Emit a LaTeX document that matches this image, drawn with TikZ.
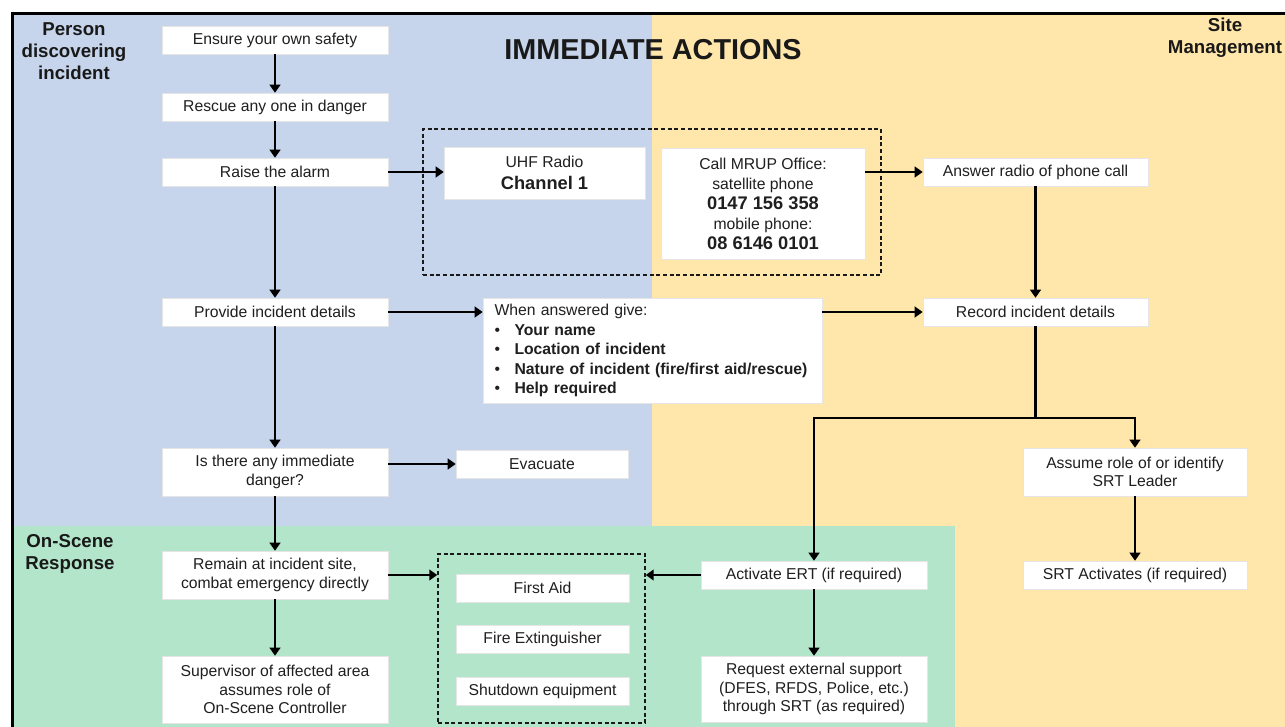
\documentclass[tikz,border=0pt]{standalone}
\usepackage{fontspec}
\setmainfont{Liberation Sans}
\usetikzlibrary{arrows.meta}

\definecolor{laneblue}{RGB}{198,212,236}
\definecolor{laneyellow}{RGB}{255,231,171}
\definecolor{lanegreen}{RGB}{178,229,201}

\tikzset{
  stepbox/.style={fill=white, draw=black!10, line width=0.4pt, inner sep=2pt,
    align=center, text=black!88, font=\fontsize{11.8}{14}\selectfont,
    minimum width=169.5pt, minimum height=21pt},
  smallbox/.style={stepbox, minimum width=129.75pt},
  flow/.style={line width=1.6pt, -{Triangle[length=6pt,width=8pt]}},
  plainline/.style={line width=1.6pt},
  groupbox/.style={draw=black!90, line width=1.1pt, dash pattern=on 3pt off 2pt,
    inner sep=0pt},
  lanetitle/.style={font=\bfseries\fontsize{14}{16.3}\selectfont, align=center,
    text=black!90}
}
\newcommand{\phonenum}[1]{{\bfseries\fontsize{13.7}{15}\selectfont #1}}
\newcommand{\listitem}[1]{\makebox[15pt][l]{\textbullet}\textbf{#1}}

\begin{document}
\begin{tikzpicture}[x=0.75pt,y=-0.75pt]
  % page and lanes
  \useasboundingbox (0,0) rectangle (1285,727);
  \fill[white] (0,0) rectangle (1285,727);
  \fill[laneyellow] (11,12) rectangle (1285,727);
  \fill[laneblue] (11,12) rectangle (652,526);
  \fill[lanegreen] (11,526) rectangle (955,727);
  \draw[line width=2.2pt] (12.5,727) -- (12.5,13.5) -- (1285,13.5);

  % lane titles
  \node[lanetitle, font=\bfseries\fontsize{21.6}{26}\selectfont] (title) at (653,50) {IMMEDIATE ACTIONS};
  \node[lanetitle] (lanepdi) at (74,51) {Person\\discovering\\incident};
  \node[lanetitle] (lanesm) at (1225,38) {Site\\Management};
  \node[lanetitle] (laneosr) at (70,554) {On-Scene\\Response};

  % person discovering incident
  \node[stepbox] (safety) at (275,40) {Ensure your own safety};
  \node[stepbox] (rescue) at (275,107) {Rescue any one in danger};
  \node[stepbox] (alarm) at (275,172) {Raise the alarm};
  \node[stepbox] (details) at (275,312) {Provide incident details};
  \node[stepbox, minimum height=36pt] (danger) at (275,472) {Is there any immediate\\danger?};
  \node[smallbox, minimum width=129pt] (evacuate) at (542,464) {Evacuate};

  % alarm channels
  \node[groupbox, minimum width=343.5pt, minimum height=109.5pt] (channels) at (652,202) {};
  \node[stepbox, minimum width=150.75pt, minimum height=39pt,
        font=\fontsize{11.8}{17}\selectfont] (uhf) at (544.5,173)
        {UHF Radio\\\phonenum{Channel 1}};
  \node[stepbox, minimum width=153pt, minimum height=83.25pt,
        font=\fontsize{11.8}{15}\selectfont] (mrup) at (763,203.5)
        {Call MRUP Office:\\satellite phone\\\phonenum{0147 156 358}\\mobile phone:\\\phonenum{08 6146 0101}};

  % report
  \node[stepbox, minimum width=254.25pt, minimum height=78.75pt, align=left,
        text width=237pt, inner xsep=8.5pt, font=\fontsize{11.8}{14.6}\selectfont] (when) at (652.5,350.5)
        {When answered give:\\\listitem{Your name}\\\listitem{Location of incident}\\
         \listitem{Nature of incident (fire/first aid/rescue)}\\\listitem{Help required}};

  % site management
  \node[stepbox, minimum width=168.75pt] (answer) at (1035.5,172) {Answer radio of phone call};
  \node[stepbox, minimum width=168.75pt] (record) at (1035.5,312) {Record incident details};
  \node[stepbox, minimum width=168pt, minimum height=36pt] (assume) at (1135,472) {Assume role of or identify\\SRT Leader};
  \node[stepbox, minimum width=168pt] (srtact) at (1135,575) {SRT Activates (if required)};
  \coordinate (split) at (1035.5,418);

  % on-scene response
  \node[stepbox, minimum height=36pt] (remain) at (275,575) {Remain at incident site,\\combat emergency directly};
  \node[stepbox, minimum height=50.25pt] (supervisor) at (275,689.5) {Supervisor of affected area\\assumes role of\\On-Scene Controller};
  \node[groupbox, minimum width=155.25pt, minimum height=126.75pt] (response) at (541.5,638.5) {};
  \node[smallbox] (firstaid) at (542.5,588) {First Aid};
  \node[smallbox] (fireext) at (542.5,639) {Fire Extinguisher};
  \node[smallbox] (shutdown) at (542.5,691) {Shutdown equipment};
  \node[stepbox] (ert) at (814,575) {Activate ERT (if required)};
  \node[stepbox, minimum height=49.5pt] (request) at (814,689) {Request external support\\(DFES, RFDS, Police, etc.)\\through SRT (as required)};

  % connectors
  \draw[flow] (safety) -- (rescue);
  \draw[flow] (rescue) -- (alarm);
  \draw[flow] (alarm.east) -- (alarm.east -| uhf.west);
  \draw[flow] (mrup.east |- answer.west) -- (answer.west);
  \draw[flow] (answer) -- (record);
  \draw[flow] (alarm) -- (details);
  \draw[flow] (details.east) -- (details.east -| when.west);
  \draw[flow] (when.east |- record.west) -- (record.west);
  \draw[flow] (details) -- (danger);
  \draw[flow] (danger.east |- evacuate.west) -- (evacuate.west);
  \draw[flow] (danger) -- (remain);
  \draw[flow] (remain.east) -- (remain.east -| response.west);
  \draw[flow] (remain) -- (supervisor);
  \draw[plainline] (record.south) -- (split);
  \draw[flow] (split) -| (ert.north);
  \draw[flow] (split) -| (assume.north);
  \draw[flow] (assume) -- (srtact);
  \draw[flow] (ert.west) -- (ert.west -| response.east);
  \draw[flow] (ert) -- (request);
\end{tikzpicture}
\end{document}
